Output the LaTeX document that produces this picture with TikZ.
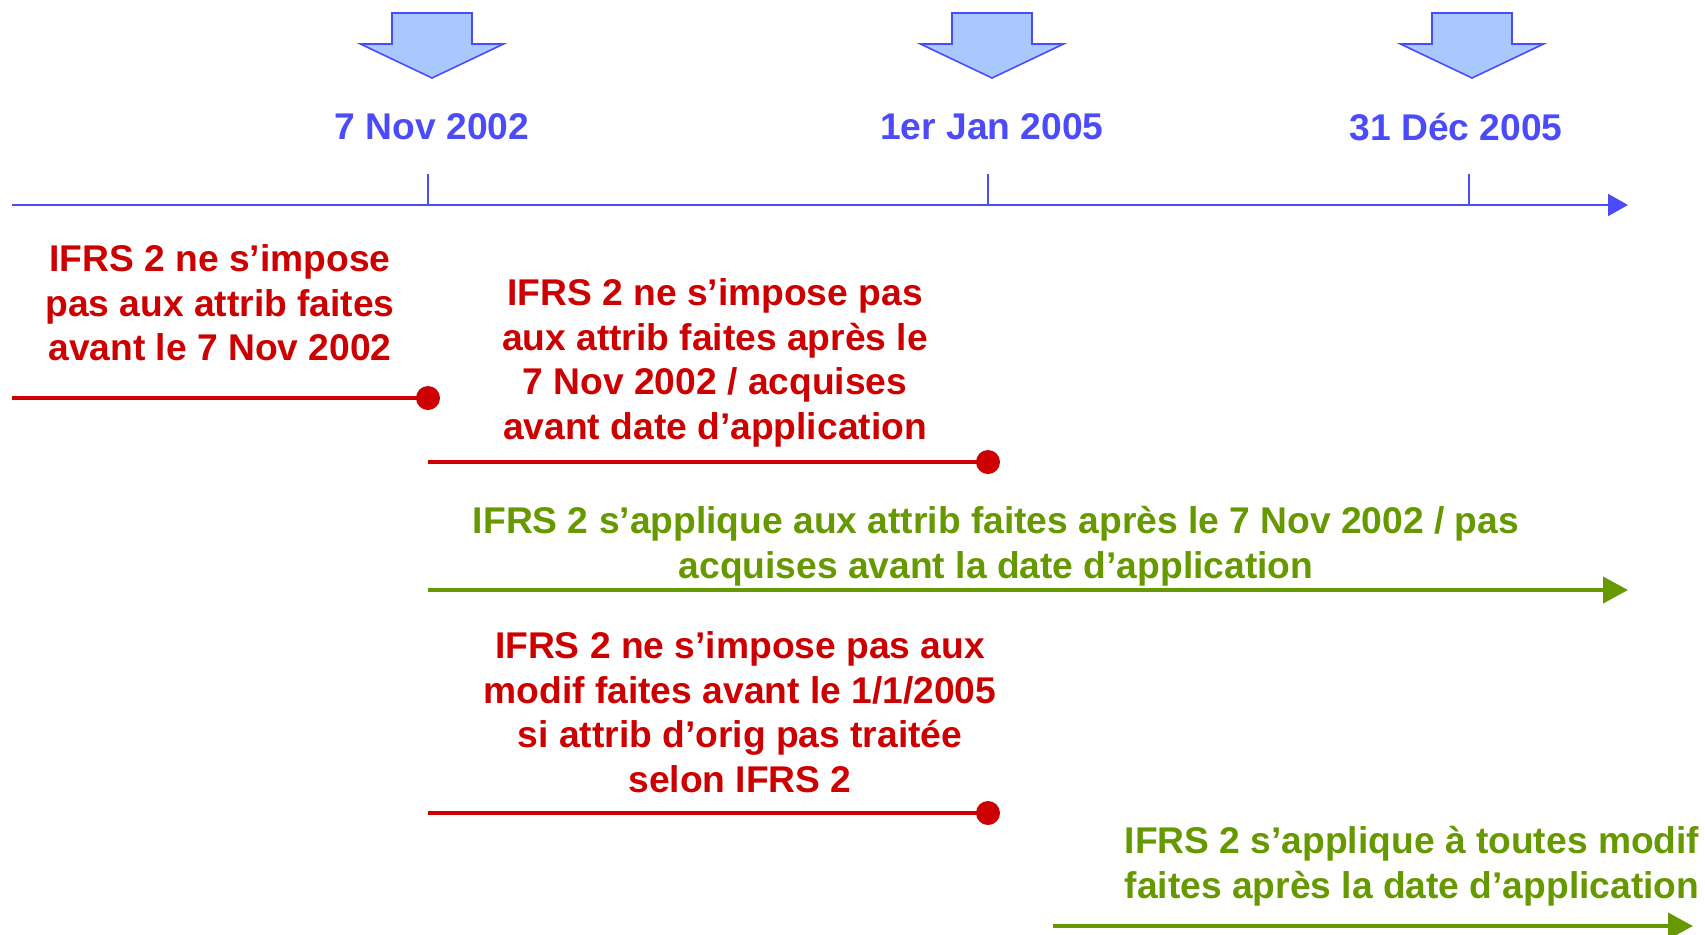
\documentclass[tikz,border=0pt]{standalone}
\usepackage{fontspec}
\setmainfont{Liberation Sans}
\definecolor{tlBlue}{HTML}{4B4BFA}
\definecolor{tlFill}{HTML}{A8C8FF}
\definecolor{tlRed}{HTML}{CC0000}
\definecolor{tlGreen}{HTML}{669900}
\usetikzlibrary{positioning,arrows.meta}

\begin{document}
\begin{tikzpicture}[x=0.5pt, y=-0.5pt,
  font=\bfseries\fontsize{18.6}{22.3}\selectfont,
  datelbl/.style={text=tlBlue, inner sep=0pt},
  rtxt/.style={text=tlRed, align=center, inner sep=0pt},
  gtxt/.style={text=tlGreen, align=center, inner sep=0pt},
  rline/.style={draw=tlRed, line width=2pt},
  gline/.style={draw=tlGreen, line width=2pt, -{Triangle[length=12.5pt, width=13pt]}},
  rdot/.style={circle, fill=tlRed, inner sep=0pt, minimum size=12pt}]
\useasboundingbox (0,0) rectangle (1705,934);
% time axis
\coordinate (ax0) at (12,205);
\coordinate (ax1) at (1628,205);
\draw[tlBlue, line width=1.1pt, -{Triangle[length=10pt, width=11pt]}] (ax0) -- (ax1);
\foreach \x in {428,988,1469}
  \draw[tlBlue, line width=1.1pt] (\x,174) -- (\x,205);
% block arrows over the dates
\foreach \x in {432,992,1472}
  \draw[tlBlue, line width=0.8pt, fill=tlFill, line join=miter]
    (\x-40,13) -- (\x+40,13) -- (\x+40,44) -- (\x+71.5,44) -- (\x,78)
    -- (\x-71.5,44) -- (\x-40,44) -- cycle;
\node[datelbl] (d1) at (432,127) {7 Nov 2002};
\node[datelbl] (d2) at (992,127) {1er Jan 2005};
\node[datelbl] (d3) at (1456,127) {31 Déc 2005};

% periods
\node[rtxt] (t1) at (220,303) {IFRS 2 ne s’impose\\pas aux attrib faites\\avant le 7 Nov 2002};
\coordinate (s1) at (12,398);
\node[rdot] (p1) at (428,398) {};
\draw[rline] (s1) -- (p1.center);

\node[rtxt] (t2) at (715,363) {IFRS 2 ne s’impose pas\\aux attrib faites après le\\7 Nov 2002 / acquises\\avant date d’application};
\coordinate (s2) at (428,462);
\node[rdot] (p2) at (988,462) {};
\draw[rline] (s2) -- (p2.center);

\node[gtxt] (t3) at (996,546) {IFRS 2 s’applique aux attrib faites après le 7 Nov 2002 / pas\\acquises avant la date d’application};
\coordinate (s3) at (428,590);
\coordinate (e3) at (1628,590);
\draw[gline] (s3) -- (e3);

\node[rtxt] (t4) at (740,712) {IFRS 2 ne s’impose pas aux\\modif faites avant le 1/1/2005\\si attrib d’orig pas traitée\\selon IFRS 2};
\coordinate (s4) at (428,813);
\node[rdot] (p4) at (988,813) {};
\draw[rline] (s4) -- (p4.center);

\node[gtxt] (t5) at (1412,866) {IFRS 2 s’applique à toutes modif\\faites après la date d’application};
\coordinate (s5) at (1053,926);
\coordinate (e5) at (1693,926);
\draw[gline] (s5) -- (e5);
\end{tikzpicture}
\end{document}
